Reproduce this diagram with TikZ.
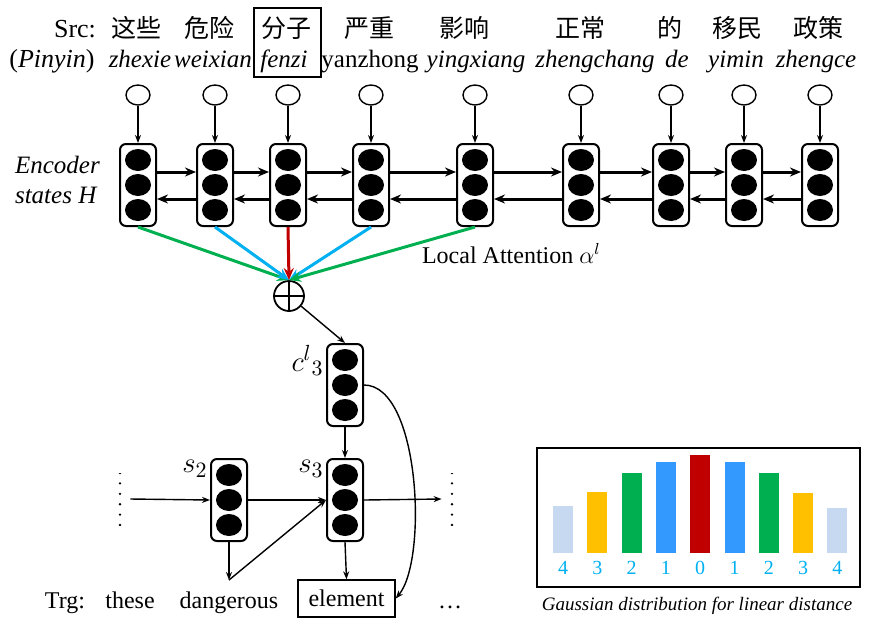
\documentclass[tikz,border=0pt]{standalone}
\usepackage{fontspec}
\setmainfont{Liberation Serif}
\newfontfamily\cjk{Noto Sans CJK SC}
\usetikzlibrary{arrows.meta,shapes.geometric}

\definecolor{attgreen}{RGB}{0,176,80}
\definecolor{attblue}{RGB}{0,176,240}
\definecolor{attred}{RGB}{192,0,0}
\definecolor{barlight}{RGB}{198,217,241}
\definecolor{baryellow}{RGB}{255,192,0}
\definecolor{bargreen}{RGB}{0,176,80}
\definecolor{barblue}{RGB}{51,153,255}
\definecolor{barred}{RGB}{192,0,0}
\definecolor{numblue}{RGB}{0,176,240}

\begin{document}
\begin{tikzpicture}[x=0.5pt, y=-0.5pt,
    % --- Styles ---
    src node/.style={font=\fontsize{13}{15}\selectfont, anchor=base},
    cn node/.style={font=\cjk\fontsize{12.5}{15}\selectfont, anchor=base},
    py node/.style={font=\fontsize{12.5}{15}\selectfont\itshape, anchor=base},
    trg node/.style={font=\fontsize{12}{14}\selectfont, anchor=base},
    lab node/.style={font=\fontsize{15}{17}\selectfont, inner sep=1pt},
    % Input word embedding (empty circle)
    in node/.style={draw, ellipse, line width=0.7pt, minimum width=12pt, minimum height=10pt, inner sep=0pt},
    % Hidden state: rounded box holding three units
    state box/.style={draw, rounded corners=3pt, line width=1pt, minimum width=18pt, minimum height=41pt, inner sep=0pt,
        path picture={\foreach \u in {-12.5pt,0pt,12.5pt}
            \fill ([yshift=\u]path picture bounding box.center) ellipse [x radius=6.5pt, y radius=5.5pt];}},
    plus node/.style={draw, circle, line width=0.9pt, minimum size=15pt, inner sep=0pt,
        path picture={\draw[line width=0.9pt] (path picture bounding box.north) -- (path picture bounding box.south)
            (path picture bounding box.west) -- (path picture bounding box.east);}},
    dots node/.style={minimum height=26pt, minimum width=2pt, inner sep=0pt,
        path picture={\draw[line width=1.3pt, line cap=round, dash pattern=on 0pt off 5.2pt]
            (path picture bounding box.north) -- (path picture bounding box.south);}},
    num node/.style={font=\fontsize{10}{12}\selectfont, text=numblue},
    % Connectors
    thin arrow/.style={-{Stealth[length=4pt, width=3pt]}, line width=0.7pt},
    rnn arrow/.style={-{Stealth[length=5.5pt, width=4.5pt]}, line width=1.5pt},
    att line/.style={-{Stealth[length=6pt, width=5pt]}, line width=1.5pt}
]
\useasboundingbox (0,0) rectangle (872,622);

%================ SOURCE SENTENCE ================
\node[src node] (src) at (75,37) {Src:};
\node[src node] (pin) at (52,67) {(\textit{Pinyin})};

\foreach \xc/\cn/\xp/\py [count=\c] in {136/这些/140/zhexie, 209/危险/213/weixian, 286/分子/284/fenzi,
    369/严重/370/{\upshape yanzhong}, 464/影响/476/yingxiang, 580/正常/595/zhengchang,
    670/的/677/de, 737/移民/736/yimin, 818/政策/816/zhengce} {
    \node[cn node] (W\c) at (\xc,37) {\cn};
    \node[py node] (P\c) at (\xp,67) {\py};
}
% highlighted source word
\node[draw, line width=0.7pt, minimum width=33.5pt, minimum height=34.5pt] (sel) at (287.5,42.5) {};

%================ ENCODER ================
\node[font=\fontsize{12.5}{15}\selectfont\itshape, align=left, anchor=west] (enc) at (8,180) {Encoder\\states H};

\foreach \x [count=\c] in {138,215,288,371,475,581,671,744,820} {
    \node[in node] (X\c) at (\x,95) {};
    \node[state box] (H\c) at (\x,185) {};
    \draw[thin arrow] (X\c) -- (H\c);
}

% forward and backward states
\foreach \c [remember=\c as \p (initially 1)] in {2,...,9} {
    \draw[rnn arrow] ([yshift=6.5pt]H\p.east) -- ([yshift=6.5pt]H\c.west);
    \draw[rnn arrow] ([yshift=-7pt]H\c.west) -- ([yshift=-7pt]H\p.east);
}

%================ LOCAL ATTENTION ================
\node[plus node] (plus) at (289,296) {};

\foreach \c/\col in {1/attgreen, 2/attblue, 4/attblue, 5/attgreen, 3/attred} {
    \draw[att line, \col] (H\c.south) -- (plus.north);
}
\node[font=\fontsize{12}{14}\selectfont, anchor=base west] (att) at (415,263) {Local Attention $\alpha^{l}$};

%================ DECODER ================
\node[state box] (C) at (345,385) {};
\node[state box] (S2) at (229,500) {};
\node[state box] (S3) at (345,500) {};

\node[lab node, anchor=north east] (cl) at (C.north west) {$c^{l}{}_{3}$};
\node[lab node, anchor=north east] (s2l) at (S2.north west) {$s_{2}$};
\node[lab node, anchor=north east] (s3l) at (S3.north west) {$s_{3}$};

\node[dots node] (dl) at (120,499) {};
\node[dots node] (dr) at (452,499) {};

% target words
\node[trg node] (trg) at (65,608) {Trg:};
\node[trg node] (T1) at (130,608) {these};
\node[trg node] (T2) at (229,608) {dangerous};
\node[draw, line width=0.7pt, font=\fontsize{12}{14}\selectfont, minimum width=48.5pt, minimum height=18.5pt, inner sep=0pt] (T3) at (346.5,598.5) {element};
\node[trg node] (T4) at (450,608) {\dots};
\coordinate (emb) at (229,580);

\draw[thin arrow] (plus) -- (C.north);
\draw[thin arrow] (C.south) -- (S3.north);
\draw[thin arrow] ([xshift=4pt]dl.east) -- (S2.west);
\draw[thin arrow] (S2.east) -- (S3.west);
\draw[thin arrow] (S3.east) -- ([xshift=-4pt]dr.west);
\draw[thin arrow] (S2.south) -- (emb);
\draw[thin arrow] (emb) -- (S3.west);
\draw[thin arrow] (S3.south) -- (T3.north);
\draw[thin arrow] (C.east) .. controls (420,385) and (428,560) .. (T3.east);

%================ GAUSSIAN DISTRIBUTION ================
\draw[line width=0.8pt] (537,448) rectangle (860,587);

\foreach \top/\col/\d [count=\c] in {506/barlight/4, 492/baryellow/3, 473/bargreen/2, 462/barblue/1, 455/barred/0,
    462/barblue/1, 473/bargreen/2, 493/baryellow/3, 508/barlight/4} {
    \pgfmathsetmacro{\xb}{563 + (\c-1)*34.3}
    \fill[\col] (\xb-10,\top) rectangle (\xb+10,553);
    \node[num node] (N\c) at (\xb,568) {\d};
}
\node[font=\fontsize{9.5}{11}\selectfont\itshape] (cap) at (697,606) {Gaussian distribution for linear distance};

\end{tikzpicture}
\end{document}
